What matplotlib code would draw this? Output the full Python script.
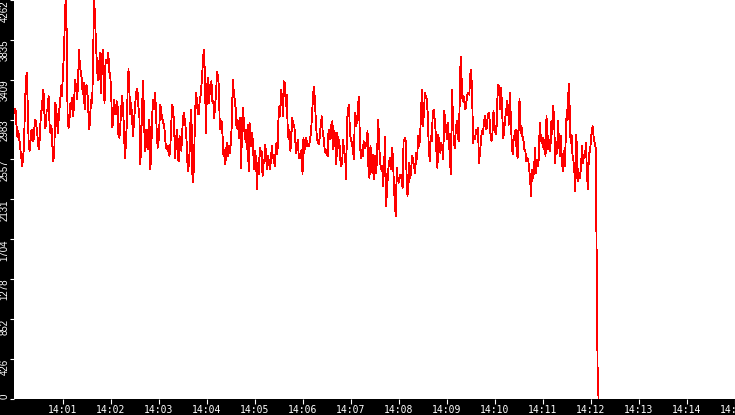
import numpy as np
import matplotlib
matplotlib.use("Agg")
import matplotlib.pyplot as plt
import matplotlib.dates as mdates
from datetime import datetime, timedelta

# readings, one block per ~2 minutes of the trace
seg_a = [3055, 3100, 2930, 2800, 2860, 2780, 2680, 2600, 2487, 2560, 2700, 3108, 3410, 3480, 3125,
         2700, 2650, 2770, 2878, 2806, 2750, 2895, 2985, 2930, 2842, 2700, 2665, 2860, 3073, 3090,
         3303, 3250, 2895, 2913, 3090, 3090, 3233, 2930, 2842, 2913, 2700, 2540, 2630, 3160, 3125,
         2930, 2842, 3090, 3125, 3339, 3233, 3445, 3658, 3978, 4300, 3942, 3037, 2895, 2985, 3160,
         3090, 3215, 3020, 3197, 3410, 3321, 3197, 3339, 3730, 3570, 3480, 3427, 3250, 3374, 3090,
         3250, 3357, 3268, 3055, 2878, 3055, 3197, 3160, 3658, 4300, 4049, 3800, 3552, 3410, 3480,
         3694, 3268, 3552, 3730, 3410, 3160, 3587, 3623, 3587, 3694, 3498, 3463, 3286]
seg_b = [2900, 2930, 3197, 3055, 3037, 3180, 3125, 2806, 2790, 2913, 3108, 3233, 3108, 2895, 2575,
         2700, 2913, 3268, 3524, 3286, 3037, 3160, 2985, 2806, 2966, 3090, 3233, 3310, 3268, 3108,
         3002, 2505, 2790, 3144, 3392, 3002, 2650, 2878, 2753, 2665, 2913, 2985, 2452, 2665, 3020,
         3197, 3090, 3268, 3125, 2842, 2682, 2753, 2948, 3144, 3055, 3002, 2948, 2930, 2824, 2682,
         2665, 2700, 2630, 2594, 2718, 2948, 3144, 3090, 2948, 2575, 2718, 2878, 2558, 2540, 2806,
         2700, 2650, 2860, 3020, 3055, 2948, 2878, 2700, 2434, 2487, 2630, 2966, 3090, 2416, 2310,
         2558, 3020, 3268, 3197, 3055, 3037, 3160, 3233, 3339, 3480, 3658, 3730, 3374, 2842, 3268,
         3427, 3160, 3357]
seg_c = [3250, 3392, 3179, 3179, 3000, 3143, 3268, 3498, 3445, 3339, 2894, 2877, 2965, 2806, 2592,
         2664, 2504, 2681, 2735, 2592, 2699, 2628, 2752, 2948, 3410, 3285, 3196, 3108, 2894, 2983,
         2877, 2788, 3000, 2468, 2948, 3108, 2948, 2770, 2877, 2664, 2930, 2433, 2948, 2770, 2699,
         2841, 2628, 2450, 2646, 2557, 2237, 2521, 2397, 2681, 2592, 2646, 2380, 2557, 2521, 2717,
         2557, 2450, 2592, 2521, 2450, 2557, 2699, 2575, 2610, 2486, 2610, 2735, 2610, 2965, 3125,
         3019, 3303, 3214, 3019, 3392, 3374, 3125, 3250, 2912, 2770, 2877, 2646, 2806, 3000, 2912,
         2930, 2806, 2628, 2699, 2770, 2575, 2610, 2575, 2664, 2397, 2788, 2628, 2770, 2788, 2699]
seg_d = [2716, 2698, 2769, 2858, 3018, 3231, 3338, 3196, 2947, 2787, 2734, 2716, 2805, 2929, 3018,
         2840, 2787, 2663, 2627, 2663, 2592, 2876, 2823, 2769, 2947, 2965, 2663, 2858, 2769, 2503,
         2840, 2680, 2769, 2556, 2485, 2520, 2769, 2627, 2609, 2343, 2982, 3089, 3142, 2823, 2769,
         2734, 2663, 2556, 3053, 2911, 2947, 3071, 3231, 2840, 2574, 2663, 2592, 2752, 2680, 2734,
         2698, 2858, 2450, 2361, 2698, 2592, 2414, 2609, 2343, 2592, 2414, 2680, 2982, 2698, 2520,
         2450, 2485, 2272, 2485, 2798, 2059, 2219, 2414, 2520, 2574, 2450, 2680, 2592, 2307, 2076,
         1952, 2467, 2343, 2307, 2378, 2396, 2343, 2254, 2752, 2769, 2787]
seg_e = [2415, 2166, 2273, 2521, 2362, 2486, 2592, 2539, 2468, 2415, 2628, 2557, 2806, 2699, 2770,
         3054, 3303, 2912, 3054, 3268, 3232, 3196, 3036, 2699, 2539, 2806, 2752, 3000, 3090, 3000,
         2877, 2628, 2468, 2823, 2664, 2628, 2735, 2681, 2557, 3072, 2983, 2877, 2770, 2948, 2735,
         2539, 2397, 3303, 3036, 2735, 2681, 2877, 2965, 2823, 2752, 3143, 3658, 3427, 3179, 3232,
         3161, 3090, 3179, 3250, 3268, 3250, 3463, 3516, 3196, 2735, 2806, 2770, 2877, 2823, 2894,
         2521, 2628, 2752, 2859, 2823, 2930, 3019, 2877, 2894, 3019, 3054, 2983, 2806, 2752, 2841,
         3072, 2930, 2841, 2823, 3196, 3356, 3339, 3090, 3321, 3072, 2788]
seg_f = [2840, 3000, 3053, 3178, 3125, 2929, 3267, 3000, 2698, 2609, 2787, 2823, 2876, 2645, 2574,
         2911, 3203, 2840, 2911, 2805, 2769, 2663, 2663, 2538, 2574, 2556, 2467, 2343, 2165, 2450,
         2361, 2414, 2680, 2414, 2556, 2485, 2556, 2947, 2805, 2734, 2787, 2663, 2769, 2592, 3018,
         2840, 2663, 2769, 2645, 2965, 2823, 3125, 2982, 2520, 2716, 2627, 2965, 2734, 2592, 2805,
         2538, 2432, 2645, 2485, 2805, 3089, 2982, 3366, 3125, 2734, 2823, 2609, 2538, 2414, 2219,
         2823, 2520, 2325, 2414, 2361, 2520, 2698, 2520, 2609, 2592, 2734, 2396, 2236, 2609, 2645,
         2734, 2876, 2911, 2787, 2734, 2680, 1618, 350, 0]

# seconds after 14:00 where each block starts / the last one ends
seg_edges = [0, 122, 245, 367, 490, 612, 730]

ytick_vals = [0, 426.2, 852.4, 1278.6, 1704.8, 2131, 2557.2, 2983.4, 3409.6, 3835.8, 4262]
ytick_labels = ['0', '426', '852', '1278', '1704', '2131', '2557', '2983', '3409', '3835', '4262']

t0 = datetime(2013, 5, 14, 14, 0, 0)
segs = [seg_a, seg_b, seg_c, seg_d, seg_e, seg_f]
secs = []
for i, s in enumerate(segs):
    last = i == len(segs) - 1
    secs.append(np.linspace(seg_edges[i], seg_edges[i + 1], len(s), endpoint=last))
secs = np.concatenate(secs)
vals = np.concatenate(segs)
times = [t0 + timedelta(seconds=float(s)) for s in secs]

fig = plt.figure(figsize=(7.35, 4.15), dpi=100, facecolor='black')
ax = fig.add_axes([14.5 / 735, 16.5 / 415, 720 / 735, 398.5 / 415])
ax.set_facecolor('white')
ax.plot(times, vals, color='#ff0000', lw=0.6, antialiased=False)

ax.set_xlim(t0, t0 + timedelta(minutes=15))
ax.set_ylim(0, 4262)
ax.set_xticks([t0 + timedelta(minutes=m) for m in range(1, 16)])
ax.xaxis.set_major_formatter(mdates.DateFormatter('%H:%M'))
ax.set_yticks(ytick_vals)
ax.set_yticklabels(ytick_labels)

for sp in ax.spines.values():
    sp.set_visible(False)

ax.tick_params(axis='x', colors='white', length=3.6, width=0.8, pad=1.2,
               labelsize=7, labelfontfamily='DejaVu Sans Mono')
ax.tick_params(axis='y', colors='white', length=2.9, width=0.8, pad=0.8,
               labelsize=7, labelrotation=90, labelfontfamily='Liberation Sans')
for i, lab in enumerate(ax.get_yticklabels()):
    lab.set_va('bottom' if i == 0 else 'top')

fig.savefig('out.png', dpi=100, facecolor='black')
